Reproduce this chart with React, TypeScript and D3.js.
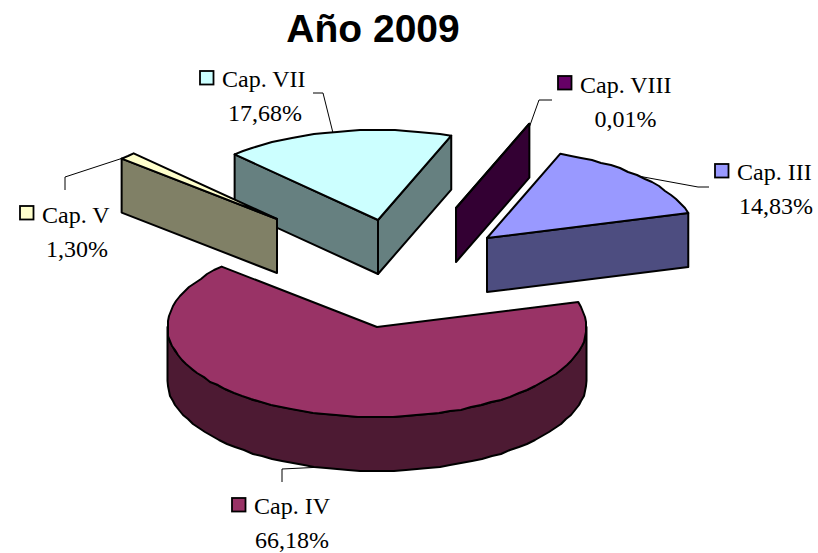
import React from "react";
import * as d3 from "d3";

// ---- data ----
const categories = ["Cap. III", "Cap. IV", "Cap. V", "Cap. VII", "Cap. VIII"];
const shares = [14.83, 66.18, 1.3, 17.68, 0.01];
const title = "Año 2009";

// ---- styling ----
const topColors = ["#9999FF", "#993366", "#FFFFCC", "#CCFFFF", "#660066"];
const sideColors = ["#4D4D80", "#4D1A33", "#808066", "#668080", "#330033"];

// ---- layout ----
const W = 818;
const H = 553;
const RX = 209.5;
const RY = 90;
const DEPTH = 54;
const FIRST_ANGLE = (20.5 * Math.PI) / 180;
const CENTRE: [number, number] = [402, 277];
// per-slice explosion, relative to the pie centre
const explode: [number, number][] = [
  [85, -39],
  [-25, 50],
  [-125, -58],
  [-24, -57],
  [54, -69],
];
const drawOrder = [3, 4, 0, 2, 1];
const labelLayout = [
  { key: [715, 164], text: [737, 180], cx: 776, base2: 214, leader: [[709, 187], [698, 187], [638, 176]] },
  { key: [232, 498], text: [254, 514], cx: 292, base2: 548, leader: [[282, 482], [282, 469], [323, 467]] },
  { key: [20, 206], text: [42, 223], cx: 77, base2: 257, leader: [[65, 190], [65, 177], [123, 158]] },
  { key: [200, 71], text: [222, 87], cx: 265, base2: 121, leader: [[313, 93], [323, 93], [333, 133]] },
  { key: [558, 76], text: [580, 93], cx: 625.5, base2: 127, leader: [[552, 100], [539, 100], [529, 128]] },
];

const fmt = d3.formatLocale({
  decimal: ",",
  thousands: ".",
  grouping: [3],
  currency: ["", ""],
}).format(".2f");

const pieGen = d3
  .pie<number>()
  .sort(null)
  .startAngle(FIRST_ANGLE)
  .endAngle(FIRST_ANGLE + 2 * Math.PI);
const arcs = pieGen(shares);

const line = d3.line<[number, number]>();

function pt(ax: number, ay: number, a: number, dy = 0): [number, number] {
  return [ax + RX * Math.sin(a), ay - RY * Math.cos(a) + dy];
}

// the reference's rim is a coarse, pixel-stepped polyline
function rim(ax: number, ay: number, a0: number, a1: number, dy = 0): [number, number][] {
  const n = Math.max(1, Math.ceil(Math.abs(a1 - a0) / ((3.2 * Math.PI) / 180)));
  return d3.range(n + 1).map((i) => {
    const p = pt(ax, ay, a0 + ((a1 - a0) * i) / n, dy);
    return i === 0 || i === n ? p : ([Math.round(p[0]), Math.round(p[1])] as [number, number]);
  });
}

const Slice = ({ i }: { i: number }) => {
  const { startAngle: a0, endAngle: a1 } = arcs[i];
  const ax = CENTRE[0] + explode[i][0];
  const ay = CENTRE[1] + explode[i][1];
  const apex: [number, number] = [ax, ay];
  const common = { stroke: "#000", strokeWidth: 2, strokeLinejoin: "round" as const };
  const sin0 = Math.sin(a0);
  const sin1 = Math.sin(a1);

  // outer wall: the part of the rim that faces the viewer
  const frontA = Math.max(a0, Math.PI / 2);
  const frontB = Math.min(a1, (3 * Math.PI) / 2);
  const hasFront = frontB > frontA;

  const radialWall = (a: number) => {
    const p = pt(ax, ay, a);
    const q = pt(ax, ay, a, DEPTH);
    return line([apex, p, q, [ax, ay + DEPTH]]) + "Z";
  };

  return (
    <g>
      {sin0 < 0 && <path d={radialWall(a0)} fill={sideColors[i]} {...common} />}
      {sin1 > 0 && <path d={radialWall(a1)} fill={sideColors[i]} {...common} />}
      {hasFront && (
        <path
          d={line([...rim(ax, ay, frontA, frontB), ...rim(ax, ay, frontB, frontA, DEPTH)]) + "Z"}
          fill={sideColors[i]}
          {...common}
        />
      )}
      <path d={line([apex, ...rim(ax, ay, a0, a1)]) + "Z"} fill={topColors[i]} {...common} />
    </g>
  );
};

export default function App() {
  return (
    <svg
      width={W}
      height={H}
      viewBox={`0 0 ${W} ${H}`}
      style={{ position: "absolute", left: 0, top: 0, background: "#fff" }}
    >
      <text
        x={373}
        y={42}
        textAnchor="middle"
        fontFamily="'Liberation Sans', Arial, sans-serif"
        fontWeight="bold"
        fontSize={39}
        fill="#000"
      >
        {title}
      </text>

      {labelLayout.map((l, i) => (
        <path
          key={i}
          d={line(l.leader as [number, number][]) || ""}
          fill="none"
          stroke="#000"
          strokeWidth={1}
        />
      ))}

      {drawOrder.map((i) => (
        <Slice key={i} i={i} />
      ))}

      {labelLayout.map((l, i) => (
        <g key={i} fontFamily="'Liberation Serif', 'Times New Roman', serif" fontSize={24} fill="#000">
          <rect
            x={l.key[0]}
            y={l.key[1]}
            width={13.5}
            height={13.5}
            fill={topColors[i]}
            stroke="#000"
            strokeWidth={1.8}
          />
          <text x={l.text[0]} y={l.text[1]}>
            {categories[i]}
          </text>
          <text x={l.cx} y={l.base2} textAnchor="middle">
            {fmt(shares[i])}%
          </text>
        </g>
      ))}
    </svg>
  );
}
